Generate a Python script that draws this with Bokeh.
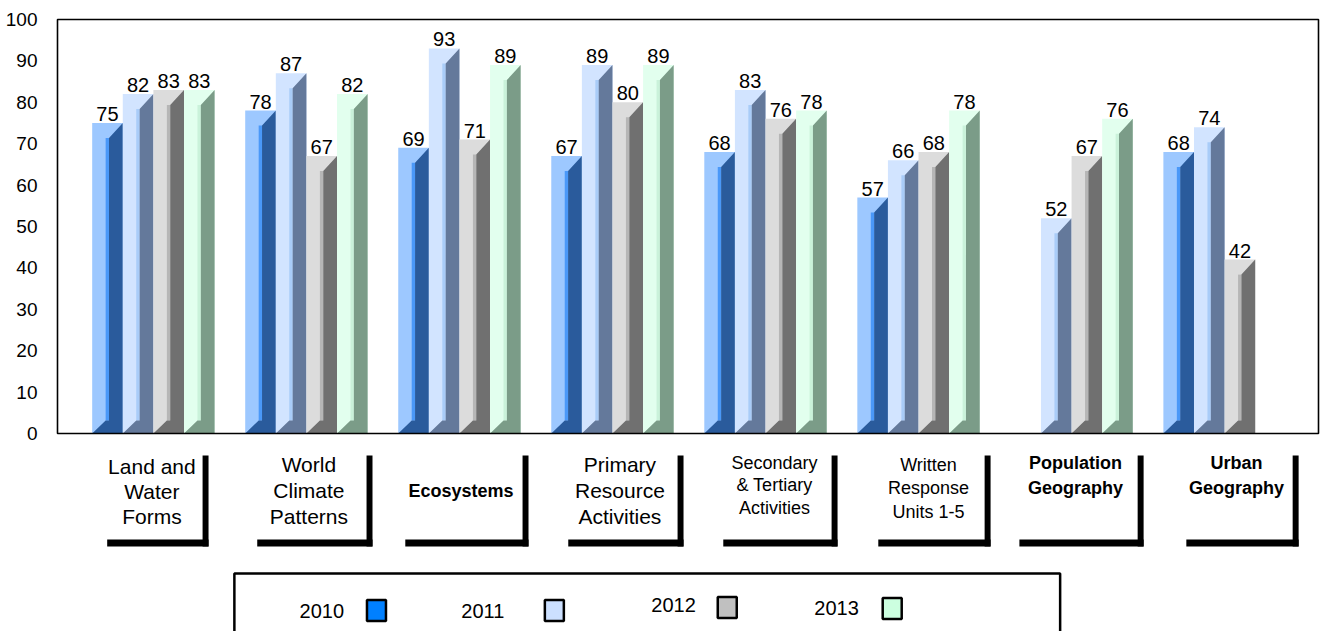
from bokeh.plotting import figure
from bokeh.models import Range1d, FixedTicker
from bokeh.core.properties import value
from bokeh.embed import file_html
from bokeh.resources import INLINE

# ---------------- data ----------------
categories = ["Land and Water Forms", "World Climate Patterns", "Ecosystems",
              "Primary Resource Activities", "Secondary & Tertiary Activities",
              "Written Response Units 1-5", "Population Geography", "Urban Geography"]
label_lines = [["Land and", "Water", "Forms"], ["World", "Climate", "Patterns"],
               ["Ecosystems"], ["Primary", "Resource", "Activities"],
               ["Secondary", "& Tertiary", "Activities"], ["Written", "Response", "Units 1-5"],
               ["Population", "Geography"], ["Urban", "Geography"]]
years = ["2010", "2011", "2012", "2013"]
v2010 = [75, 78, 69, 67, 68, 57, None, 68]
v2011 = [82, 87, 93, 89, 83, 66, 52, 74]
v2012 = [83, 67, 71, 80, 76, 68, 67, 42]
v2013 = [83, 82, 89, 89, 78, 78, 76, None]
series = [v2010, v2011, v2012, v2013]
y_ticks = [0, 10, 20, 30, 40, 50, 60, 70, 80, 90, 100]

# ---------------- style ----------------
FRONT = ["#9DC8FF", "#D2E4FF", "#DCDCDC", "#E2FFEE"]
STRIP = ["#4A98F8", "#A9CCF8", "#B6B6B6", "#CAF2DA"]
SIDE = ["#2A5B9C", "#64799B", "#707070", "#7B9C88"]
LEGEND_COL = ["#0080FF", "#CCE0FF", "#C0C0C0", "#CCFFE0"]
FONT = "Liberation Sans"

PXX = 154.0      # reference px per category
PXY = 4.14       # reference px per value unit
def xu(px):      # reference x px -> data units
    return (px - 153.5) / PXX
def yu(py):      # reference y px -> data units
    return (433.0 - py) / PXY

BAR_W = 0.2
XS_F, XD_F = 0.44, 0.55
DY_TOP = 15 / PXY
DY_BOT = 13 / PXY

# label layout (style)
LABEL_DX = [-1.5, 2.5, 1.5, 7.5, 9, 10, 4, 12]
BOX_HALF = [51, 58, 62, 58, 57.5, 56.5, 62.5, 56.5]
LABEL_SIZE = [21, 21, 18, 21, 18, 18, 18, 18]
LABEL_BOLD = [False, False, True, False, False, False, True, True]
LABEL_Y0 = [466, 464, 490, 464, 462, 464, 462, 462]
LABEL_GAP = [25, 26, 0, 26, 22.5, 23.5, 25, 25]

W, H = 1322, 631
p = figure(width=W, height=H, output_backend="svg", toolbar_location=None,
           x_axis_location=None, y_axis_location="left",
           x_range=Range1d(xu(57) - 2 / 153.0, xu(1326) + 2 / 153.0),
           y_range=Range1d(-(H - 433) / PXY, 100 + 2 / PXY))
p.min_border_left = 55
p.min_border_right = 2
p.min_border_top = 17
p.min_border_bottom = 0
p.outline_line_color = None
p.xgrid.visible = False
p.ygrid.visible = False
p.background_fill_color = "white"
p.border_fill_color = "white"

ax = p.yaxis[0]
ax.ticker = FixedTicker(ticks=y_ticks)
ax.axis_line_color = None
ax.major_tick_line_color = None
ax.minor_tick_line_color = None
ax.major_label_text_font = FONT
ax.major_label_text_font_size = "19px"
ax.major_label_text_color = "black"
ax.major_label_standoff = 12

# ---------------- bars ----------------
for j, vals in enumerate(series):
    fl, fr, fb, ft = [], [], [], []
    sl, sr, sb, st = [], [], [], []
    pxs, pys = [], []
    lx, ly, lt = [], [], []
    for i, v in enumerate(vals):
        if v is None:
            continue
        x0 = i + (j - 2) * BAR_W
        x1 = x0 + BAR_W
        xs = x0 + XS_F * BAR_W
        xd = x0 + XD_F * BAR_W
        fl.append(x0); fr.append(x1); fb.append(0); ft.append(v)
        sl.append(xs); sr.append(xd); sb.append(DY_BOT); st.append(v - DY_TOP)
        pxs.append([x0, x1, x1, xd, xd, xs])
        pys.append([0, 0, v, v - DY_TOP, DY_BOT, DY_BOT])
        lx.append(x0 + BAR_W / 2); ly.append(v); lt.append(str(v))
    p.quad(left=fl, right=fr, bottom=fb, top=ft, fill_color=FRONT[j], line_color=None)
    p.quad(left=sl, right=sr, bottom=sb, top=st, fill_color=STRIP[j], line_color=None)
    p.patches(xs=pxs, ys=pys, fill_color=SIDE[j], line_color=None)
    p.text(x=lx, y=ly, text=lt, text_align="center", text_baseline="alphabetic",
           y_offset=-9, text_font=value(FONT), text_font_size="20px", text_color="black")

# chart frame
p.quad(left=[xu(57)], right=[xu(1326)], bottom=[0], top=[100], fill_color=None,
       line_color="black", line_width=1.6)

# ---------------- category labels with shadow brackets ----------------
for i, lines in enumerate(label_lines):
    cx = 153.5 + PXX * i + LABEL_DX[i]
    left = cx - BOX_HALF[i]
    right = cx + BOX_HALF[i]
    p.quad(left=[xu(right), xu(left + 6)], right=[xu(right + 6), xu(right + 6)],
           bottom=[yu(546), yu(546)], top=[yu(455), yu(539)],
           fill_color="black", line_color=None)
    ys = [yu(LABEL_Y0[i] + k * LABEL_GAP[i]) for k in range(len(lines))]
    p.text(x=[xu(cx)] * len(lines), y=ys, text=lines, text_align="center",
           text_baseline="middle", text_font=value(FONT),
           text_font_size=f"{LABEL_SIZE[i]}px",
           text_font_style="bold" if LABEL_BOLD[i] else "normal", text_color="black")

# ---------------- legend ----------------
p.quad(left=[xu(235)], right=[xu(1066)], bottom=[yu(720)], top=[yu(573)],
       fill_color="white", line_color="black", line_width=2.5)
LEG_TX = [323, 485, 677, 841]
LEG_TY = [610, 610, 604, 607]
LEG_SX = [378, 557, 731, 897]
LEG_SY = [610, 610, 607, 608]
p.text(x=[xu(v) for v in LEG_TX], y=[yu(v) for v in LEG_TY], text=years,
       text_align="center", text_baseline="middle", text_font=value(FONT),
       text_font_size="20px", text_color="black")
p.rect(x=[xu(v) for v in LEG_SX], y=[yu(v) for v in LEG_SY], width=19, height=21,
       width_units="screen", height_units="screen", fill_color=LEGEND_COL,
       line_color="black", line_width=2.5)

open("out.html", "w").write(file_html(p, INLINE))
